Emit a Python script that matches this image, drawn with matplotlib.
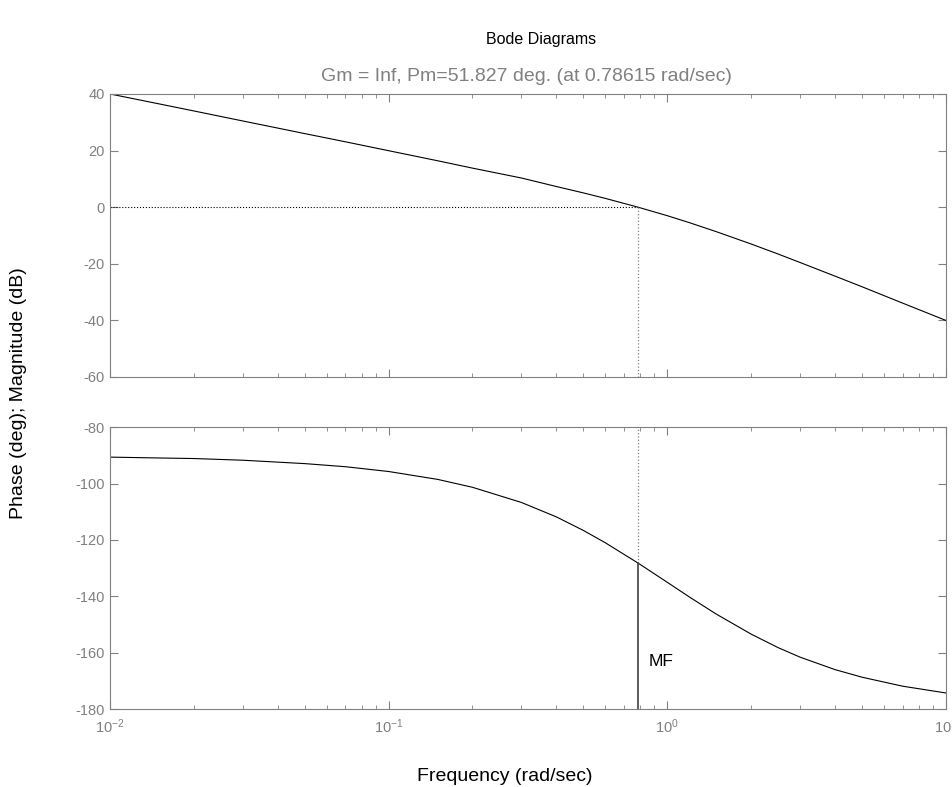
import matplotlib
matplotlib.use("Agg")
import matplotlib.pyplot as plt
import numpy as np

plt.rcParams["font.family"] = ["Liberation Sans", "DejaVu Sans"]
plt.rcParams["mathtext.fontset"] = "custom"
plt.rcParams["mathtext.rm"] = "Liberation Sans"
plt.rcParams["mathtext.it"] = "Liberation Sans"
plt.rcParams["axes.unicode_minus"] = False

# values
freq = [0.01, 0.015, 0.02, 0.03, 0.05, 0.07, 0.1, 0.15, 0.2, 0.3, 0.4, 0.5, 0.6,
        0.786, 1.0, 1.2, 1.5, 2.0, 2.5, 3.0, 4.0, 5.0, 7.0, 10.0]
mag_db = [40.0, 36.5, 34.0, 30.45, 26.0, 23.1, 19.96, 16.4, 13.8, 10.3, 7.3, 5.05, 3.1,
          0.0, -3.0, -5.45, -8.65, -13.0, -16.55, -19.55, -24.35, -28.1, -33.9, -40.0]
phase_deg = [-90.6, -90.9, -91.1, -91.7, -92.9, -94.0, -95.7, -98.5, -101.3, -106.7,
             -111.8, -116.6, -121.0, -128.2, -135.0, -140.2, -146.3, -153.4, -158.2,
             -161.6, -166.0, -168.7, -171.9, -174.3]
wc = 0.78615
pm_phase = -128.17

GRAY = "#808080"

fig = plt.figure(figsize=(9.53, 7.87), dpi=100)
ax1 = fig.add_axes([0.1154, 0.521, 0.877, 0.3596])
ax2 = fig.add_axes([0.1154, 0.0991, 0.877, 0.358])

ax1.plot(freq, mag_db, color="black", lw=0.8)
ax2.plot(freq, phase_deg, color="black", lw=0.8)

ax1.plot([0.01, wc], [0, 0], ls=":", color="black", lw=0.8)
ax1.plot([wc, wc], [0, -60], ls=":", color=GRAY, lw=0.9)
ax2.plot([wc, wc], [pm_phase, -80], ls=":", color=GRAY, lw=0.9)
ax2.plot([wc, wc], [-180, pm_phase], color="#404040", lw=1.2)
ax2.text(0.86, -163, "MF", fontsize=12.5, ha="left", va="center")

for ax in (ax1, ax2):
    ax.set_xscale("log")
    ax.set_xlim(0.01, 10)
    ax.tick_params(which="both", direction="in", top=True, right=True,
                   colors=GRAY, labelcolor=GRAY, labelsize=10.5)
    ax.tick_params(which="major", length=6)
    ax.tick_params(which="minor", length=3)
    for s in ax.spines.values():
        s.set_color(GRAY)

ax1.set_ylim(-60, 40)
ax1.set_yticks([-60, -40, -20, 0, 20, 40])
ax1.tick_params(labelbottom=False)
ax2.set_ylim(-180, -80)
ax2.set_yticks([-180, -160, -140, -120, -100, -80])
ax2.tick_params(axis="x", pad=6)

fig.text(0.552, 0.903, "Gm = Inf, Pm=51.827 deg. (at 0.78615 rad/sec)", color=GRAY,
         fontsize=14, ha="center", va="center")
fig.text(0.568, 0.950, "Bode Diagrams", ha="center", va="center", fontsize=11.5)
fig.text(0.019, 0.50, "Phase (deg); Magnitude (dB)", rotation=90, ha="center", va="center", fontsize=14)
fig.text(0.53, 0.013, "Frequency (rad/sec)", ha="center", va="center", fontsize=14)

fig.savefig("out.png", dpi=100)
